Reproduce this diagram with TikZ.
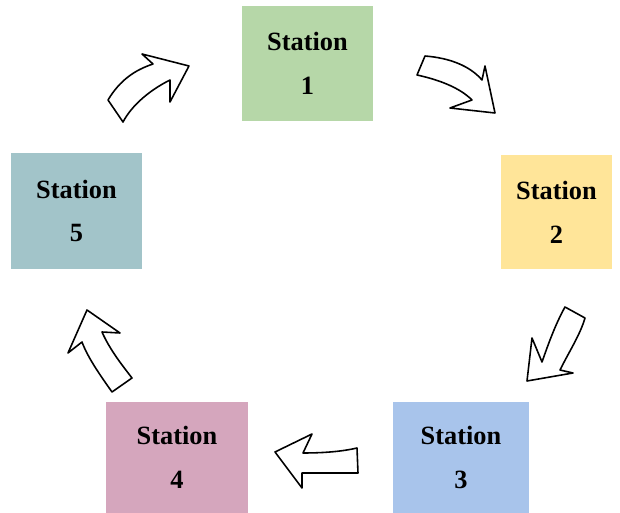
\documentclass[tikz,border=0pt]{standalone}
\usepackage{fontspec}
\setmainfont{Liberation Serif}
\usetikzlibrary{
    arrows.meta,
    positioning
}
\definecolor{stationgreen}{RGB}{182,215,168}
\definecolor{stationyellow}{RGB}{255,229,153}
\definecolor{stationblue}{RGB}{168,196,235}
\definecolor{stationpink}{RGB}{213,166,189}
\definecolor{stationteal}{RGB}{162,196,201}
\tikzset{
    % Box styles
    station box/.style={
        rectangle,
        inner sep=0pt,
        align=center,
        font=\fontsize{15}{25}\selectfont\bfseries
    },
    % Block arrow style
    turn arrow/.style={
        draw=black,
        fill=white,
        line width=0.9pt,
        line join=round
    }
}

\begin{document}
\begin{tikzpicture}[x=0.02cm,y=-0.02cm]
    \useasboundingbox (0,0) rectangle (620,513);
    % the five stations
    \node[station box, fill=stationgreen, minimum width=2.62cm, minimum height=2.30cm]
        (s1) at (307.5,63.5) {Station\\1};
    \node[station box, fill=stationyellow, minimum width=2.22cm, minimum height=2.28cm]
        (s2) at (556.5,212) {Station\\2};
    \node[station box, fill=stationblue, minimum width=2.72cm, minimum height=2.22cm]
        (s3) at (461,457.5) {Station\\3};
    \node[station box, fill=stationpink, minimum width=2.84cm, minimum height=2.22cm]
        (s4) at (177,457.5) {Station\\4};
    \node[station box, fill=stationteal, minimum width=2.62cm, minimum height=2.32cm]
        (s5) at (76.5,211) {Station\\5};
    % curved block arrows going round
    \draw[turn arrow] (108,100) .. controls (120,80) and (135,70) .. (153,64)
        -- (142,54) -- (189,66) -- (170,102) -- (170,80)
        .. controls (150,90) and (132,105) .. (123,122) -- cycle;
    \draw[turn arrow] (425,56) .. controls (450,58) and (470,66) .. (482,80)
        -- (485,66) -- (495,113) -- (450,108) -- (472,100)
        .. controls (460,88) and (440,80) .. (417,75) -- cycle;
    \draw[turn arrow] (565,307) .. controls (555,325) and (548,345) .. (542,362)
        -- (532,338) -- (527,381) -- (573,373) -- (560,370)
        .. controls (570,350) and (580,335) .. (585,318) -- cycle;
    \draw[turn arrow] (357,448) .. controls (340,452) and (320,453) .. (303,453)
        -- (312,434) -- (275,452) -- (302,488) -- (302,473)
        .. controls (325,473) and (345,473) .. (358,473) -- cycle;
    \draw[turn arrow] (112,392) .. controls (100,375) and (88,358) .. (82,342)
        -- (68,353) -- (87,310) -- (120,333) -- (102,332)
        .. controls (110,350) and (122,365) .. (132,378) -- cycle;
\end{tikzpicture}
\end{document}
